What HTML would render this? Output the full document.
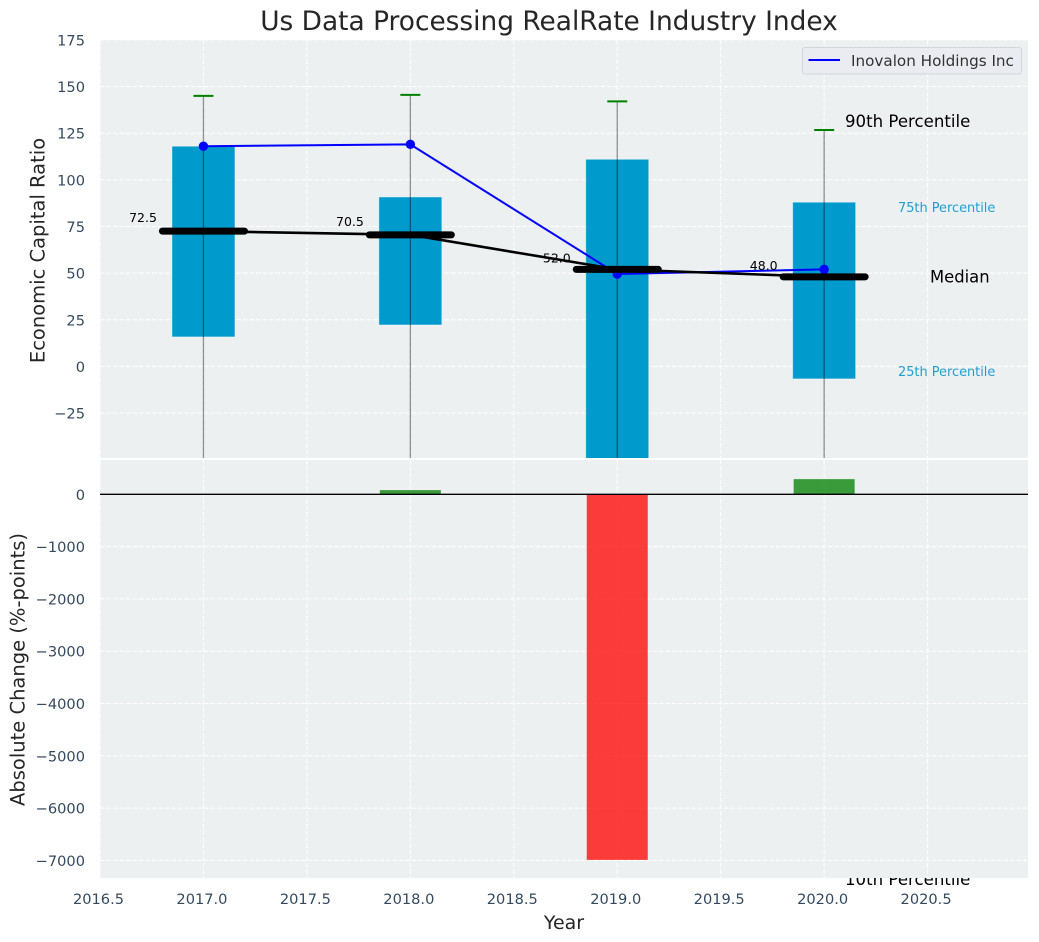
<!DOCTYPE html>
<html>
<head>
<meta charset="utf-8">
<title>Us Data Processing RealRate Industry Index</title>
<style>
html,body{margin:0;padding:0;background:#fff;width:1039px;height:942px;overflow:hidden}
svg{display:block}
text{font-family:"DejaVu Sans","Liberation Sans",sans-serif}
</style>
</head>
<body>
<svg id="chart" xmlns="http://www.w3.org/2000/svg" width="1039" height="942" viewBox="0 0 1039 942">
  <defs>
    <clipPath id="top-clip"><rect x="100" y="40" width="928" height="418"></rect></clipPath>
    <clipPath id="bottom-clip"><rect x="100" y="460" width="928" height="418"></rect></clipPath>
  </defs>
  <text x="845" y="885" font-size="16.6" fill="#000">10th Percentile</text>
  <rect x="100" y="40" width="928" height="418" fill="#ecf0f1"></rect>
  <rect x="100" y="460" width="928" height="418" fill="#ecf0f1"></rect>
  <g id="top-grid"></g>
  <g id="bottom-grid"></g>
  <g id="top-marks" clip-path="url(#top-clip)"></g>
  <g id="bottom-marks" clip-path="url(#bottom-clip)"></g>
  <g id="tick-labels"></g>
  <text x="549" y="30" font-size="26.4" fill="#262626" text-anchor="middle">Us Data Processing RealRate Industry Index</text>
  <text transform="translate(44.5,250.5) rotate(-90)" font-size="19.5" fill="#262626" text-anchor="middle">Economic Capital Ratio</text>
  <text transform="translate(24.5,669.5) rotate(-90)" font-size="19.5" fill="#262626" text-anchor="middle">Absolute Change (%-points)</text>
  <text x="564" y="929" font-size="19" fill="#262626" text-anchor="middle">Year</text>
  <text x="845" y="127" font-size="16.6" fill="#000">90th Percentile</text>
  <text x="898" y="212" font-size="12.9" fill="#1f9fd1">75th Percentile</text>
  <text x="930" y="282.5" font-size="16.4" fill="#000">Median</text>
  <text x="898" y="376" font-size="12.9" fill="#1f9fd1">25th Percentile</text>
  <g>
    <rect x="802.5" y="47.5" width="219" height="26.5" rx="2.5" fill="#eaecf1" stroke="#d3d6d9" stroke-width="1"></rect>
    <line x1="808.5" y1="60" x2="840" y2="60" stroke="#0000ff" stroke-width="2"></line>
    <text x="851" y="66" font-size="15.2" fill="#333">Inovalon Holdings Inc</text>
  </g>
</svg>
<script>
const years = [2017, 2018, 2019, 2020];
const p75 = [118, 90.8, 111, 88];
const p25 = [15.8, 22.2, -60, -6.7];
const p90 = [145, 145.5, 142, 126.7];
const p10 = [-60, -60, -60, -60];
const medians = [72.5, 70.5, 52.0, 48.0];
const company = [118, 119, 49.5, 52];
const absChange = [0, 80, -6990, 290];
const xTicks = [2016.5, 2017, 2017.5, 2018, 2018.5, 2019, 2019.5, 2020, 2020.5];
const topTicks = [175, 150, 125, 100, 75, 50, 25, 0, -25];
const bottomTicks = [0, -1000, -2000, -3000, -4000, -5000, -6000, -7000];

const NS = 'http://www.w3.org/2000/svg';
function xScale(v) { return 100 + (v - 2016.5) * 206.9; }
function yTop(v) { return 366.4 - v * 1.866; }
function yBottom(v) { return 494.3 - v * 0.0523; }
function make(parent, tag, attrs, text) {
  const el = document.createElementNS(NS, tag);
  for (const k in attrs) el.setAttribute(k, attrs[k]);
  if (text !== undefined) el.textContent = text;
  parent.appendChild(el);
  return el;
}
function fmt(v) { return String(v).replace('-', '\u2212'); }

const topGrid = document.getElementById('top-grid');
const bottomGrid = document.getElementById('bottom-grid');
const topMarks = document.getElementById('top-marks');
const bottomMarks = document.getElementById('bottom-marks');
const tickLabels = document.getElementById('tick-labels');
const gridStyle = { stroke: '#ffffff', 'stroke-width': 1, 'stroke-dasharray': '4.5 2', fill: 'none' };

xTicks.forEach(function (t) {
  const a = make(topGrid, 'line', Object.assign({ x1: xScale(t), x2: xScale(t), y1: 40, y2: 458 }, gridStyle));
  
  
  const b = make(bottomGrid, 'line', Object.assign({ x1: xScale(t), x2: xScale(t), y1: 460, y2: 878 }, gridStyle));
  
  
  const l = make(tickLabels, 'text', { x: xScale(t) - 1.5, y: 904, 'font-size': 14.6, fill: '#34495e', 'text-anchor': 'middle' }, t.toFixed(1));
  
  
});
topTicks.forEach(function (t) {
  const a = make(topGrid, 'line', Object.assign({ x1: 100, x2: 1028, y1: yTop(t), y2: yTop(t) }, gridStyle));
  
  
  const l = make(tickLabels, 'text', { x: 85, y: yTop(t) + 5.5, 'font-size': 14.6, fill: '#34495e', 'text-anchor': 'end' }, fmt(t));
  
  
});
bottomTicks.forEach(function (t) {
  const a = make(bottomGrid, 'line', Object.assign({ x1: 100, x2: 1028, y1: yBottom(t), y2: yBottom(t) }, gridStyle));
  
  
  const l = make(tickLabels, 'text', { x: 85, y: yBottom(t) + 5.5, 'font-size': 14.6, fill: '#34495e', 'text-anchor': 'end' }, fmt(t));
  
  
});

years.forEach(function (yr, i) {
  const cx = xScale(yr);
  const bar = make(topMarks, 'rect', {
    x: cx - 31.5, width: 63,
    y: yTop(p75[i]), height: yTop(p25[i]) - yTop(p75[i]),
    fill: '#009acd', stroke: '#ffffff', 'stroke-opacity': 0.45, 'stroke-width': 1
  });
  
  
  const whisker = make(topMarks, 'line', {
    x1: cx, x2: cx, y1: yTop(p90[i]), y2: yTop(p10[i]),
    stroke: '#000', 'stroke-opacity': 0.42, 'stroke-width': 1.3
  });
  
  
  const cap = make(topMarks, 'line', {
    x1: cx - 10, x2: cx + 10, y1: yTop(p90[i]), y2: yTop(p90[i]),
    stroke: '#008000', 'stroke-width': 2
  });
  
  
});

const companyLine = make(topMarks, 'polyline', {
  points: years.map(function (yr, i) { return xScale(yr) + ',' + yTop(company[i]); }).join(' '),
  fill: 'none', stroke: '#0000ff', 'stroke-width': 2
});


years.forEach(function (yr, i) {
  const dot = make(topMarks, 'circle', { cx: xScale(yr), cy: yTop(company[i]), r: 4.7, fill: '#0000ff' });
  
  
});

const medianLine = make(topMarks, 'polyline', {
  points: years.map(function (yr, i) { return xScale(yr) + ',' + yTop(medians[i]); }).join(' '),
  fill: 'none', stroke: '#000', 'stroke-width': 2.6
});


years.forEach(function (yr, i) {
  const cx = xScale(yr);
  const tick = make(topMarks, 'line', {
    x1: cx - 41, x2: cx + 41, y1: yTop(medians[i]), y2: yTop(medians[i]),
    stroke: '#000', 'stroke-width': 7, 'stroke-linecap': 'round'
  });
  
  
  const label = make(topMarks, 'text', {
    x: cx - 46.5, y: yTop(medians[i] * 1.05 + 3.55) + 4.4, 'font-size': 12.5, fill: '#000', 'text-anchor': 'end'
  }, medians[i].toFixed(1));
  
  
});

years.forEach(function (yr, i) {
  if (absChange[i] === 0) return;
  const y0 = yBottom(0);
  const y1 = yBottom(absChange[i]);
  const bar = make(bottomMarks, 'rect', {
    x: xScale(yr) - 30.5, width: 61,
    y: Math.min(y0, y1), height: Math.abs(y1 - y0),
    fill: absChange[i] >= 0 ? '#008000' : '#ff0000', 'fill-opacity': 0.76
  });
  
  
});
const zero = make(bottomMarks, 'line', { x1: 100, x2: 1028, y1: yBottom(0), y2: yBottom(0), stroke: '#000', 'stroke-width': 1.3 });


</script>
</body>
</html>
